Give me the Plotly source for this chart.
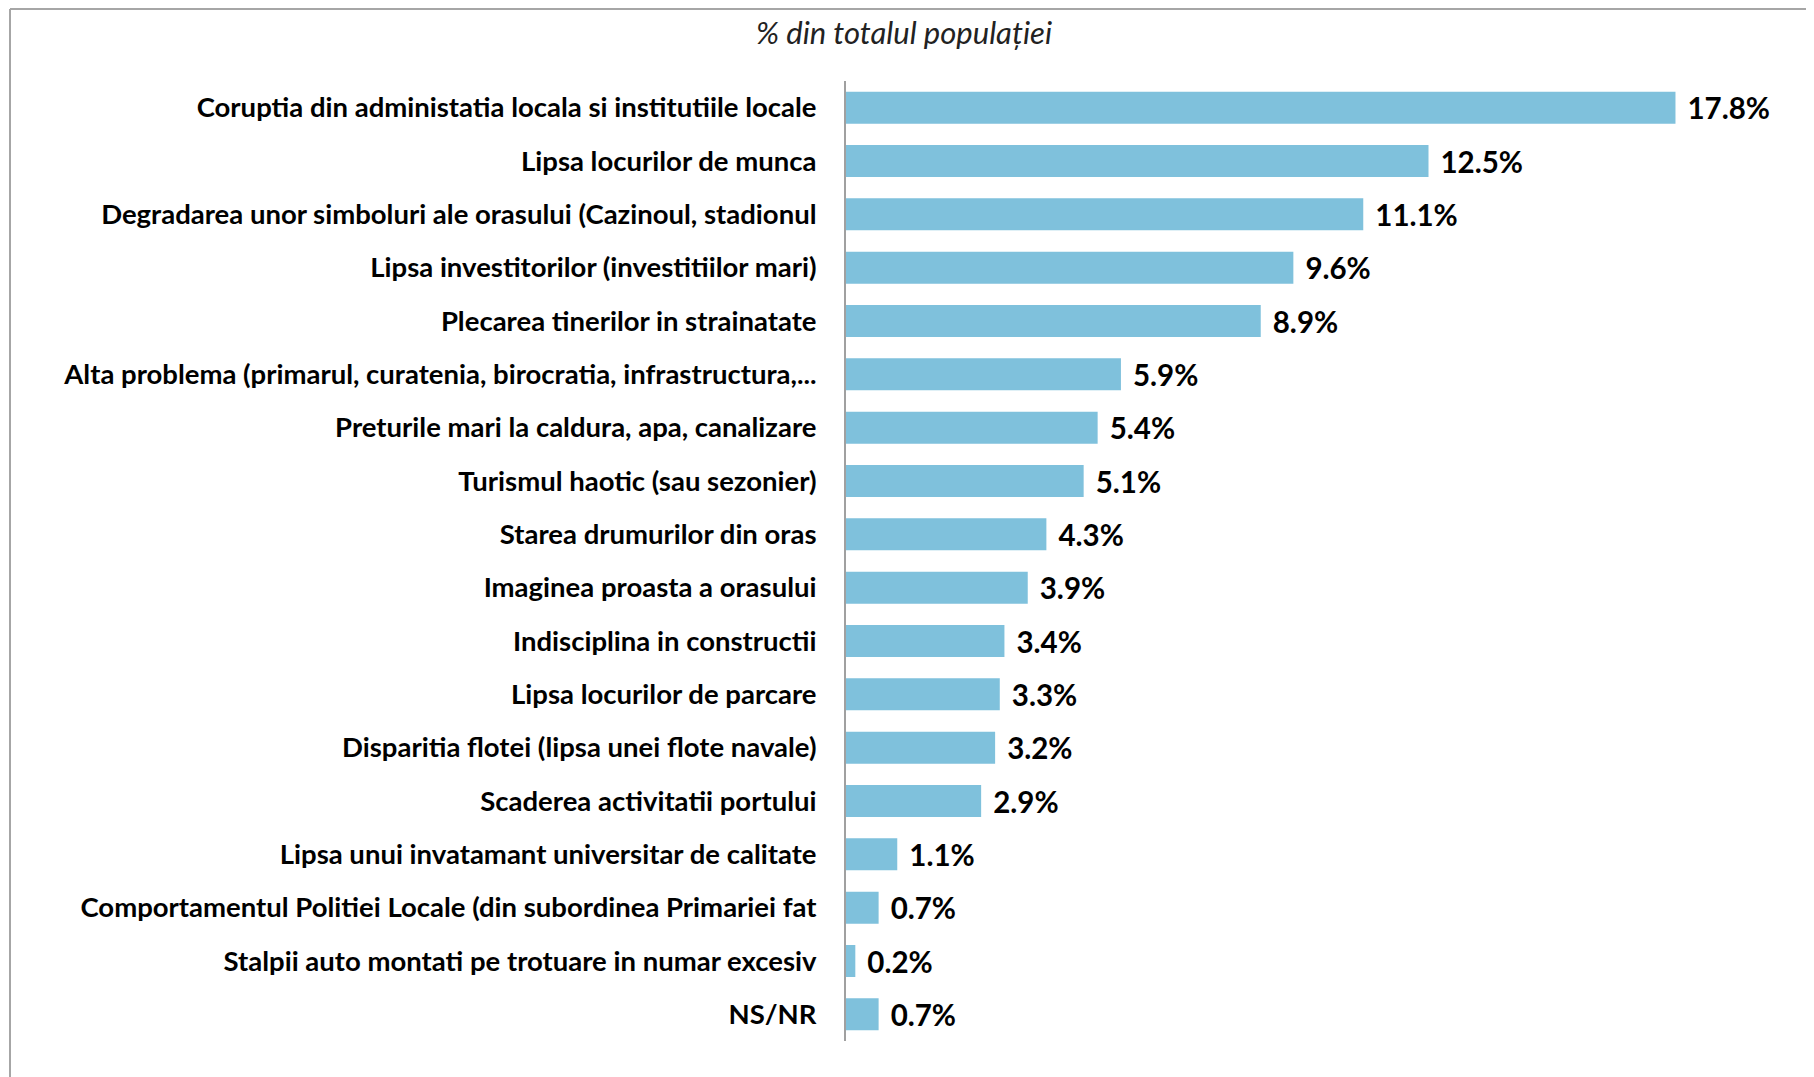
import plotly.graph_objects as go

categories = [
    "Coruptia din administatia locala si institutiile locale",
    "Lipsa locurilor de munca",
    "Degradarea unor simboluri ale orasului (Cazinoul, stadionul",
    "Lipsa investitorilor (investitiilor mari)",
    "Plecarea tinerilor in strainatate",
    "Alta problema (primarul, curatenia, birocratia, infrastructura,...",
    "Preturile mari la caldura, apa, canalizare",
    "Turismul haotic (sau sezonier)",
    "Starea drumurilor din oras",
    "Imaginea proasta a orasului",
    "Indisciplina in constructii",
    "Lipsa locurilor de parcare",
    "Disparitia flotei (lipsa unei flote navale)",
    "Scaderea activitatii portului",
    "Lipsa unui invatamant universitar de calitate",
    "Comportamentul Politiei Locale (din subordinea Primariei fat",
    "Stalpii auto montati pe trotuare in numar excesiv",
    "NS/NR",
]
values = [17.8, 12.5, 11.1, 9.6, 8.9, 5.9, 5.4, 5.1, 4.3, 3.9, 3.4, 3.3, 3.2, 2.9, 1.1, 0.7, 0.2, 0.7]
title_text = "% din totalul populației"

W, H = 1806, 1069
L, R, T, B = 838, 36, 73, 36
pw, ph = W - L - R, H - T - B

fig = go.Figure(go.Bar(
    x=values,
    y=categories,
    orientation="h",
    marker=dict(color="#7fc1dc", line=dict(width=0)),
    text=["\u00a0\u200a" + f"{v:.1f}%" for v in values],
    textposition="outside",
    constraintext="none",
    cliponaxis=False,
    textfont=dict(family="Lato", size=29.5, color="#000000", weight="bold"),
    width=0.6,
))

fig.update_layout(
    width=W, height=H,
    margin=dict(l=L, r=R, t=T, b=B),
    paper_bgcolor="white",
    plot_bgcolor="white",
    showlegend=False,
    title=dict(
        text=title_text,
        x=896 / W, xanchor="center",
        y=1 - 25 / H, yanchor="middle",
        font=dict(family="Lato", size=31, color="#222222", style="italic"),
    ),
    xaxis=dict(range=[0, 20], visible=False),
    yaxis=dict(
        categoryorder="array", categoryarray=categories,
        range=[len(categories) - 0.5, -0.5],
        showline=True, linecolor="#a0a0a0", linewidth=2,
        showgrid=False, zeroline=False, ticks="",
        ticklabelstandoff=22,
        tickfont=dict(family="Lato", size=27.5, color="#000000", weight="bold"),
    ),
    shapes=[
        dict(type="line", xref="paper", yref="paper",
             x0=(2 - L) / pw, x1=(W + 10 - L) / pw,
             y0=1 + (T - 1) / ph, y1=1 + (T - 1) / ph,
             line=dict(color="#a6a6a6", width=2)),
        dict(type="line", xref="paper", yref="paper",
             x0=(2 - L) / pw, x1=(2 - L) / pw,
             y0=1 + (T - 1) / ph, y1=-(B + 10) / ph,
             line=dict(color="#a6a6a6", width=2)),
    ],
)

fig.write_html("out.html")
